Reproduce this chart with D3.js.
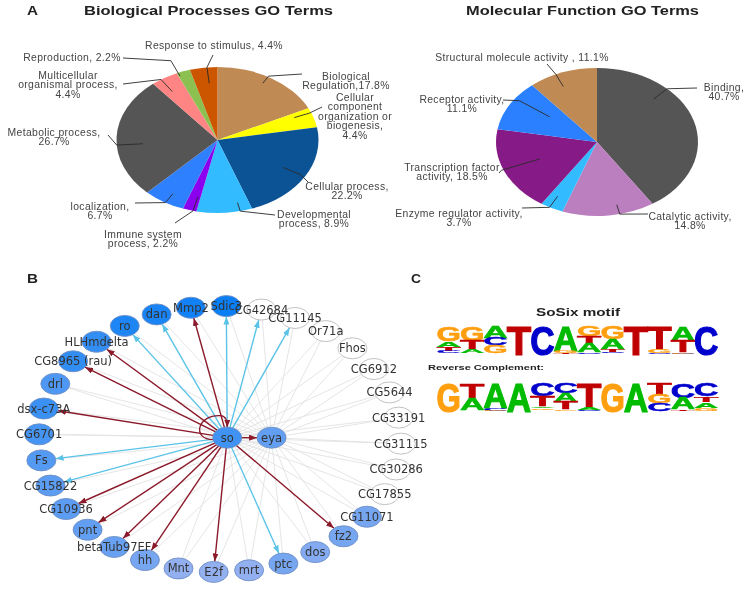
<!DOCTYPE html>
<html>
<head>
<meta charset="utf-8">
<script src="https://cdn.jsdelivr.net/npm/d3@7"></script>
<style>
	html, body { margin: 0; padding: 0; background: #fff; }
	svg { display: block; filter: blur(0.45px); }
	.lbl { font-family: "Liberation Sans", Arial, sans-serif; font-size: 10.4px; fill: #444; text-anchor: middle; letter-spacing: 0.35px; }
	.head { font-family: "Liberation Sans", Arial, sans-serif; font-weight: bold; fill: #222; }
	.gene { font-family: "DejaVu Sans", sans-serif; font-size: 11.5px; fill: #333; text-anchor: middle; }
</style>
</head>
<body>
<div id="chart"></div>
<script>
// panel A, biological processes
var bioTerms = ["Biological Regulation", "Cellular component", "Cellular process", "Developmental", "Immune system", "localization", "Metabolic process", "Multicellular", "Reproduction", "Response to stimulus"];
var bioValues = [17.8, 4.4, 22.2, 8.9, 2.2, 6.7, 26.7, 4.4, 2.2, 4.4];
var bioColors = ["#c08a54", "#ffff00", "#0b5394", "#33bbff", "#8b00ee", "#2f80ff", "#555555", "#ff8585", "#8cc152", "#cc5500"];
var bioLabels = [
	["Biological", "Regulation,17.8%"],
	["Cellular", "component", "organization or", "biogenesis,", "4.4%"],
	["Cellular process,", "22.2%"],
	["Developmental", "process, 8.9%"],
	["Immune system", "process, 2.2%"],
	["localization,", "6.7%"],
	["Metabolic process,", "26.7%"],
	["Multicellular", "organismal process,", "4.4%"],
	["Reproduction, 2.2%"],
	["Response to stimulus, 4.4%"]
];

// panel A, molecular function
var molTerms = ["Binding", "Catalytic activity", "Enzyme regulator activity", "Transcription factor activity", "Receptor activity", "Structural molecule activity"];
var molValues = [40.7, 14.8, 3.7, 18.5, 11.1, 11.1];
var molColors = ["#555555", "#bb7fc0", "#33bbff", "#861a86", "#2a80ff", "#c08a54"];
var molLabels = [
	["Binding,", "40.7%"],
	["Catalytic activity,", "14.8%"],
	["Enzyme regulator activity,", "3.7%"],
	["Transcription factor", "activity, 18.5%"],
	["Receptor activity,", "11.1%"],
	["Structural molecule activity , 11.1%"]
];

// panel B, genes clockwise from the top
var genes = ["Sdic3", "CG42684", "CG11145", "Or71a", "Fhos", "CG6912", "CG5644", "CG33191", "CG31115", "CG30286", "CG17855", "CG11071", "fz2", "dos", "ptc", "mrt", "E2f", "Mnt", "hh", "betaTub97EF", "pnt", "CG10936", "CG15822", "Fs", "CG6701", "dsx-c73A", "drl", "CG8965 (rau)", "HLHmdelta", "ro", "dan", "Mmp2"];
// darkness of the node, 0 = lightest blue, 1 = darkest, null = not filled
var geneShade = [1, null, null, null, null, null, null, null, null, null, null, 0.2, 0.2, 0.1, 0.2, 0, 0, 0, 0.2, 0.3, 0.35, 0.4, 0.4, 0.45, 0.55, 0.65, 0.5, 0.7, 0.7, 0.85, 0.9, 0.95];
var redTargets = ["Mmp2", "HLHmdelta", "CG8965 (rau)", "dsx-c73A", "CG10936", "pnt", "betaTub97EF", "hh", "E2f", "fz2"];
var blueTargets = ["Sdic3", "CG42684", "CG11145", "dan", "ro", "Fs", "CG15822", "ptc"];

// panel C, letters top to bottom with their share of the stack
var motifForward = [
	[["G", 52], ["A", 20], ["T", 14], ["C", 8]],
	[["G", 50], ["T", 30], ["A", 12]],
	[["A", 40], ["C", 26], ["G", 26]],
	[["T", 100]],
	[["C", 100]],
	[["A", 85], ["G", 8], ["T", 4]],
	[["G", 36], ["T", 25], ["A", 30], ["C", 5]],
	[["G", 46], ["A", 35], ["T", 7], ["C", 5]],
	[["T", 100]],
	[["T", 80], ["G", 12], ["C", 3]],
	[["A", 50], ["T", 40], ["C", 5], ["G", 3]],
	[["C", 100]]
];
var motifReverse = [
	[["G", 100]],
	[["T", 50], ["A", 42]],
	[["A", 85], ["C", 10], ["G", 3]],
	[["A", 100]],
	[["C", 45], ["T", 35], ["A", 6], ["G", 6]],
	[["C", 35], ["A", 30], ["T", 25], ["G", 5]],
	[["T", 82], ["A", 10], ["C", 5]],
	[["G", 100]],
	[["A", 100]],
	[["T", 40], ["G", 30], ["C", 26]],
	[["C", 50], ["A", 40], ["T", 5]],
	[["C", 45], ["T", 20], ["A", 20], ["G", 10]]
];
var letterColors = {A: "#00bb00", C: "#0000cc", G: "#ff9f0f", T: "#c00000"};

var svg = d3.select("#chart").append("svg")
	.attr("width", 750)
	.attr("height", 595);

// where each label block sits: centre x, first line y, leader end x, y
var bioPlace = [[346, 76, 302, 74], [355, 97, 322, 107], [347, 186, 308, 182], [314, 214, 275, 215], [143, 234, 175, 223],
	[100, 206, 135, 203], [54, 132, 108, 135], [68, 75, 123, 84], [72, 57, 123, 58], [214, 45, 213, 55]];
var molPlace = [[724, 87, 697, 88], [690, 216, 648, 214], [459, 213, 522, 208], [452, 167, 499, 173], [462, 99, 503, 100], [522, 57, 547, 64]];
// leader bend: angle in degrees clockwise from the top, inner radius share, elbow radius share
var bioBend = [[30, 0.9, 1.01], [68, 0.82, 0.98], [120, 0.75, 0.95], [167, 0.88, 1], [194, 0.8, 1],
	[211, 0.86, 1], [266, 0.74, 1], [326, 0.8, 1], [337, 0.95, 1.18], [354, 0.78, 1]];
var molBend = [[44, 0.81, 1], [167, 0.87, 1], [208, 0.83, 1], [248, 0.61, 1.02], [306, 0.58, 0.95], [336, 0.82, 1]];

function drawPie(values, colors, labels, place, bend, cx, cy, rx, ry) {
	var arcs = d3.pie().sort(null)(values);
	var arc = d3.arc().innerRadius(0).outerRadius(rx);

	svg.append("g")
		.attr("transform", "translate(" + cx + "," + cy + ") scale(1," + (ry / rx) + ")")
		.selectAll("path")
		.data(arcs)
		.enter().append("path")
		.attr("d", arc)
		.style("fill", function(d, i) { return colors[i]; });

	function rimPoint(deg, k) {
		var a = deg * Math.PI / 180;
		return [cx + rx * k * Math.sin(a), cy - ry * k * Math.cos(a)];
	}

	svg.append("g").selectAll("path")
		.data(arcs)
		.enter().append("path")
		.attr("d", function(d, i) {
			var b = bend[i];
			return d3.line()([rimPoint(b[0], b[1]), rimPoint(b[0], b[2]), [place[i][2], place[i][3]]]);
		})
		.style("fill", "none")
		.style("stroke", "#2a2a2a")
		.style("stroke-width", 0.9);

	labels.forEach(function(lines, i) {
		lines.forEach(function(line, j) {
			svg.append("text")
				.attr("class", "lbl")
				.attr("x", place[i][0])
				.attr("y", place[i][1] + 3.5 + j * 9.5)
				.text(line);
		});
	});
}

drawPie(bioValues, bioColors, bioLabels, bioPlace, bioBend, 217.5, 140, 101, 73);
drawPie(molValues, molColors, molLabels, molPlace, molBend, 597, 142, 101, 74);

function heading(txt, x, y, size, width) {
	var t = svg.append("text")
		.attr("class", "head")
		.attr("x", x)
		.attr("y", y)
		.style("font-size", size + "px")
		.text(txt);
	if (width) t.attr("textLength", width).attr("lengthAdjust", "spacingAndGlyphs");
}
heading("A", 27, 15, 12.5, 11);
heading("Biological Processes GO Terms", 84, 15, 12.5, 249);
heading("Molecular Function GO Terms", 466, 15, 12.5, 233);
heading("B", 27, 283, 12.5, 11);
heading("C", 411, 283, 12.5, 10);
heading("SoSix motif", 536, 316, 10.5, 84);
heading("Reverse Complement:", 428, 370, 8, 116);

// network
var ringX = d3.scaleLinear().domain([-1, 1]).range([39, 401]);
var ringY = d3.scaleLinear().domain([-1, 1]).range([306, 572]);
var ringAngle = d3.scaleLinear().domain([0, genes.length]).range([2 * Math.PI / 180, 2 * Math.PI + 2 * Math.PI / 180]);
var shade = d3.scaleLinear().domain([0, 1]).range(["#92b0f0", "#0a7ff5"]);
var nodeRx = 14.5, nodeRy = 10.5;

var nodes = genes.map(function(g, i) {
	var a = ringAngle(i);
	return {name: g, x: ringX(Math.sin(a)), y: ringY(-Math.cos(a)), shade: geneShade[i]};
});
var so = {name: "so", x: ringX(0.04), y: ringY(-0.01)};
var eya = {name: "eya", x: ringX(0.285), y: ringY(-0.01)};
function byName(n) { return nodes.filter(function(d) { return d.name == n; })[0]; }

var defs = svg.append("defs");
[["arrowRed", "#8b1a2b"], ["arrowBlue", "#5cc3e8"]].forEach(function(m) {
	defs.append("marker")
		.attr("id", m[0])
		.attr("viewBox", "0 0 8 6")
		.attr("refX", 8)
		.attr("refY", 3)
		.attr("markerWidth", 8)
		.attr("markerHeight", 6)
		.attr("markerUnits", "userSpaceOnUse")
		.attr("orient", "auto")
		.append("path")
		.attr("d", "M0,0L8,3L0,6Z")
		.style("fill", m[1]);
});

// stop a line at the rim of the target ellipse
function edgeEnd(a, b) {
	var dx = b.x - a.x, dy = b.y - a.y;
	var t = 1 / Math.sqrt(dx * dx / (nodeRx * nodeRx) + dy * dy / (nodeRy * nodeRy));
	return [b.x - dx * t, b.y - dy * t];
}

var edgeLayer = svg.append("g");
nodes.forEach(function(n) {
	[so, eya].forEach(function(hub) {
		if (hub == so && (redTargets.indexOf(n.name) >= 0 || blueTargets.indexOf(n.name) >= 0)) return;
		edgeLayer.append("line")
			.attr("x1", hub.x).attr("y1", hub.y)
			.attr("x2", n.x).attr("y2", n.y)
			.style("stroke", "#e2e2e2")
			.style("stroke-width", 0.9);
	});
});

function arrows(targets, color, marker, width) {
	targets.forEach(function(t) {
		var e = edgeEnd(so, t);
		edgeLayer.append("line")
			.attr("x1", so.x).attr("y1", so.y)
			.attr("x2", e[0]).attr("y2", e[1])
			.attr("marker-end", "url(#" + marker + ")")
			.style("stroke", color)
			.style("stroke-width", width);
	});
}
arrows(blueTargets.map(byName), "#5cc3e8", "arrowBlue", 1.4);
arrows(redTargets.map(byName).concat([eya]), "#8b1a2b", "arrowRed", 1.4);

// so regulates itself
edgeLayer.append("path")
	.attr("d", "M" + (so.x - 14) + "," + (so.y + 2) +
		"C" + (so.x - 36) + "," + (so.y + 2) + " " + (so.x - 30) + "," + (so.y - 24) + " " + (so.x - 6) + "," + (so.y - 22) +
		"C" + (so.x - 1) + "," + (so.y - 21) + " " + so.x + "," + (so.y - 17) + " " + so.x + "," + (so.y - 10))
	.attr("marker-end", "url(#arrowRed)")
	.style("fill", "none")
	.style("stroke", "#8b1a2b")
	.style("stroke-width", 1.3);

var allNodes = nodes.concat([
	{name: "so", x: so.x, y: so.y, shade: 0.6},
	{name: "eya", x: eya.x, y: eya.y, shade: 0.35}
]);
svg.append("g").selectAll("ellipse")
	.data(allNodes)
	.enter().append("ellipse")
	.attr("cx", function(d) { return d.x; })
	.attr("cy", function(d) { return d.y; })
	.attr("rx", nodeRx)
	.attr("ry", nodeRy)
	.style("fill", function(d) { return d.shade === null ? "#fff" : shade(d.shade); })
	.style("stroke", function(d) { return d.shade === null ? "#bbb" : "#6f8fc4"; })
	.style("stroke-width", 0.9);

svg.append("g").selectAll("text")
	.data(allNodes)
	.enter().append("text")
	.attr("class", "gene")
	.attr("x", function(d) { return d.x; })
	.attr("y", function(d) { return d.y + 4; })
	.text(function(d) { return d.name; });

// sequence logos
var logoX = d3.scaleBand().domain(d3.range(12)).range([437, 718]);
var fontPx = 100, capShare = 0.72;

function drawLogo(stacks, top, bottom) {
	var y = d3.scaleLinear().domain([0, 100]).range([bottom, top]);
	var g = svg.append("g");
	stacks.forEach(function(stack, i) {
		var used = 0;
		stack.forEach(function(s) {
			var yTop = y(100 - used);
			var yBase = y(100 - used - s[1]);
			used += s[1];
			var t = g.append("text")
				.style("font-family", "'Liberation Sans', Arial, sans-serif")
				.style("font-weight", "bold")
				.style("font-size", fontPx + "px")
				.style("fill", letterColors[s[0]])
				.style("stroke", letterColors[s[0]])
				.style("stroke-width", 3)
				.text(s[0]);
			var len = t.node().getComputedTextLength();
			// a little wider than the band, the glyphs have side bearings
			t.attr("transform", "translate(" + (logoX(i) - 0.5) + "," + yBase + ") scale(" +
				((logoX.bandwidth() + 1) / len) + "," + ((yBase - yTop) / (capShare * fontPx)) + ")");
		});
	});
}
drawLogo(motifForward, 326, 355);
drawLogo(motifReverse, 383, 412);
</script>
</body>
</html>
